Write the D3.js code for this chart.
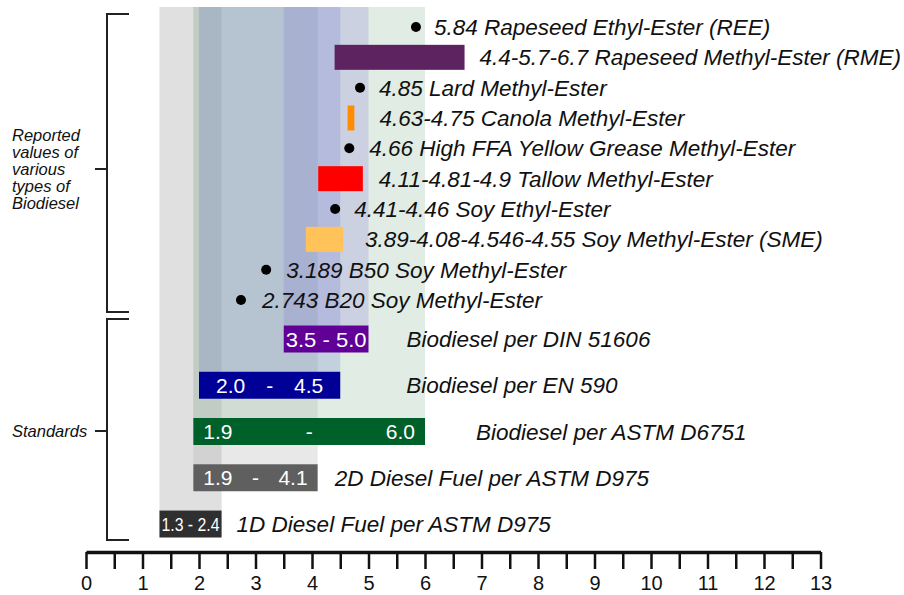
<!DOCTYPE html>
<html>
<head>
<meta charset="utf-8">
<script src="https://cdn.jsdelivr.net/npm/d3@7"></script>
<style>
  body { margin: 0; background: #fff; }
  svg { font-family: "Liberation Sans", Arial, sans-serif; }
</style>
</head>
<body>
<div id="chart-area"></div>
<script>
// DATA
// ****

// reported values (top group), one row each
let reportedLabels = [
  "5.84 Rapeseed Ethyl-Ester (REE)",
  "4.4-5.7-6.7 Rapeseed Methyl-Ester (RME)",
  "4.85 Lard Methyl-Ester",
  "4.63-4.75 Canola Methyl-Ester",
  "4.66 High FFA Yellow Grease Methyl-Ester",
  "4.11-4.81-4.9 Tallow Methyl-Ester",
  "4.41-4.46 Soy Ethyl-Ester",
  "3.89-4.08-4.546-4.55 Soy Methyl-Ester (SME)",
  "3.189 B50 Soy Methyl-Ester",
  "2.743 B20 Soy Methyl-Ester"
]
let reportedLow  = [5.84, 4.4, 4.85, 4.63, 4.66, 4.11, 4.41, 3.89, 3.189, 2.743]
let reportedHigh = [5.84, 6.7, 4.85, 4.75, 4.66, 4.9, 4.46, 4.55, 3.189, 2.743]
// null -> drawn as a dot
let reportedColors = [null, "#5c2360", null, "#ff8c00", null, "#ff0000", null, "#ffc35a", null, null]

// standards (bottom group)
let stdLabels = [
  "Biodiesel per DIN 51606",
  "Biodiesel per EN 590",
  "Biodiesel per ASTM D6751",
  "2D Diesel Fuel per ASTM D975",
  "1D Diesel Fuel per ASTM D975"
]
let stdLow  = [3.5, 2.0, 1.9, 1.9, 1.3]
let stdHigh = [5.0, 4.5, 6.0, 4.1, 2.4]
let stdColors = ["#600096", "#000096", "#00602a", "#5f5f5f", "#2f2f2f"]
let bandColors = ["rgb(115,95,210)", "rgb(80,100,200)", "rgb(152,192,165)", "rgb(180,180,180)", "rgb(180,180,180)"]
let bandOpacity = [0.19, 0.2, 0.3, 0.31, 0.41]

let ticks = d3.range(0, 13.01, 0.5)

// LAYOUT
// ******

let width = 904
let height = 595
let axisY = 552
let reportedGap = [18, 15, 19, 25, 20, 16, 19, 22, 20, 21]
let stdGap = [38, 66, 51, 17, 15]
let stdPad = [2, 17, 10, 10, 2]

let svg = d3.select("#chart-area")
  .append("svg")
    .attr("width", width)
    .attr("height", height)

let x = d3.scaleLinear().domain([0, 13]).range([86, 820.5])
let yRep = d3.scalePoint().domain(d3.range(reportedLabels.length)).range([27, 300])
let yStd = d3.scalePoint().domain(d3.range(stdLabels.length)).range([339, 524])

let repH = 25
let stdH = 27

// BACKGROUND BANDS (drawn widest / lowest first)
// ****************

let bandOrder = d3.range(stdLabels.length).reverse()
svg.append("g").selectAll("rect").data(bandOrder).enter()
  .append("rect")
    .attr("x", i => x(stdLow[i]))
    .attr("y", 7)
    .attr("width", i => x(stdHigh[i]) - x(stdLow[i]))
    .attr("height", i => yStd(i) - stdH / 2 - 7)
    .attr("fill", i => bandColors[i])
    .attr("fill-opacity", i => bandOpacity[i])

// REPORTED VALUES
// ***************

let rep = svg.append("g")
let repIdx = d3.range(reportedLabels.length)

rep.selectAll("rect").data(repIdx.filter(i => reportedColors[i])).enter()
  .append("rect")
    .attr("x", i => x(reportedLow[i]))
    .attr("y", i => yRep(i) - repH / 2)
    .attr("width", i => x(reportedHigh[i]) - x(reportedLow[i]))
    .attr("height", repH)
    .attr("fill", i => reportedColors[i])

rep.selectAll("circle").data(repIdx.filter(i => !reportedColors[i])).enter()
  .append("circle")
    .attr("cx", i => x(reportedLow[i]))
    .attr("cy", i => yRep(i))
    .attr("r", 5)
    .attr("fill", "#000")

rep.selectAll("text").data(repIdx).enter()
  .append("text")
    .attr("x", i => x(reportedColors[i] ? reportedHigh[i] : reportedLow[i]) + reportedGap[i])
    .attr("y", i => yRep(i))
    .attr("dy", "0.36em")
    .attr("font-size", "22.5px")
    .attr("font-style", "italic")
    .style("fill", "#111")
    .text(i => reportedLabels[i])

// STANDARDS
// *********

let std = svg.append("g")
let stdIdx = d3.range(stdLabels.length)

std.selectAll("rect").data(stdIdx).enter()
  .append("rect")
    .attr("x", i => x(stdLow[i]))
    .attr("y", i => yStd(i) - stdH / 2)
    .attr("width", i => x(stdHigh[i]) - x(stdLow[i]))
    .attr("height", stdH)
    .attr("fill", i => stdColors[i])

let fmt = d3.format(".1f")
stdIdx.forEach(i => {
  let x0 = x(stdLow[i]), x1 = x(stdHigh[i])
  let t = std.append("g")
    .attr("font-size", "21px")
    .style("fill", "#fff")
  if (x1 - x0 < 100) {
    // narrow bar: squeeze the whole range into it
    t.append("text")
      .attr("x", x0 + stdPad[i]).attr("y", yStd(i)).attr("dy", "0.36em")
      .attr("textLength", x1 - x0 - 2 * stdPad[i])
      .attr("lengthAdjust", "spacingAndGlyphs")
      .attr("font-size", (x1 - x0 < 70 ? 19 : 21) + "px")
      .text(fmt(stdLow[i]) + " - " + fmt(stdHigh[i]))
    return
  }
  t.append("text")
    .attr("x", x0 + stdPad[i]).attr("y", yStd(i)).attr("dy", "0.36em")
    .text(fmt(stdLow[i]))
  t.append("text")
    .attr("x", (x0 + x1) / 2).attr("y", yStd(i)).attr("dy", "0.36em")
    .attr("text-anchor", "middle")
    .text("-")
  t.append("text")
    .attr("x", x1 - stdPad[i]).attr("y", yStd(i)).attr("dy", "0.36em")
    .attr("text-anchor", "end")
    .text(fmt(stdHigh[i]))
})

std.selectAll("text.std-label").data(stdIdx).enter()
  .append("text")
    .attr("class", "std-label")
    .attr("x", i => x(stdHigh[i]) + stdGap[i])
    .attr("y", i => yStd(i))
    .attr("dy", "0.36em")
    .attr("font-size", "22.5px")
    .attr("font-style", "italic")
    .style("fill", "#111")
    .text(i => stdLabels[i])

// BRACKETS
// ********

function bracket(y0, y1, ym, lines) {
  svg.append("path")
    .attr("d", "M129," + y0 + "H107V" + y1 + "H129M107," + ym + "H95")
    .attr("fill", "none")
    .attr("stroke", "#222")
    .attr("stroke-width", 2)
  let t = svg.append("text")
    .attr("x", 12)
    .attr("y", ym - (lines.length - 1) * 17 / 2)
    .attr("font-size", "16.5px")
    .attr("font-style", "italic")
    .style("fill", "#111")
  lines.forEach((l, k) => {
    t.append("tspan").attr("x", 12).attr("dy", k === 0 ? "0.36em" : 17).text(l)
  })
}

bracket(yRep(0) - 13, yRep(reportedLabels.length - 1) + 12, 169,
  ["Reported", "values of", "various", "types of", "Biodiesel"])
bracket(yStd(0) - 20, yStd(stdLabels.length - 1) + 16, 431, ["Standards"])

// AXIS
// ****

let bottomAxis = d3.axisBottom(x)
  .tickValues(ticks)
  .tickFormat(d => d % 1 === 0 ? d : "")
  .tickSize(17)
  .tickSizeOuter(0)
  .tickPadding(7)

let ax = svg.append("g")
  .attr("transform", "translate(0, " + axisY + ")")
  .call(bottomAxis)
ax.select(".domain").attr("stroke", "#111").attr("stroke-width", 3.5)
ax.selectAll(".tick line").attr("stroke", "#111").attr("stroke-width", 2.5)
ax.selectAll(".tick text")
  .attr("font-size", "20px")
  .attr("font-family", "'Liberation Sans', Arial, sans-serif")
  .style("fill", "#111")
</script>
</body>
</html>
